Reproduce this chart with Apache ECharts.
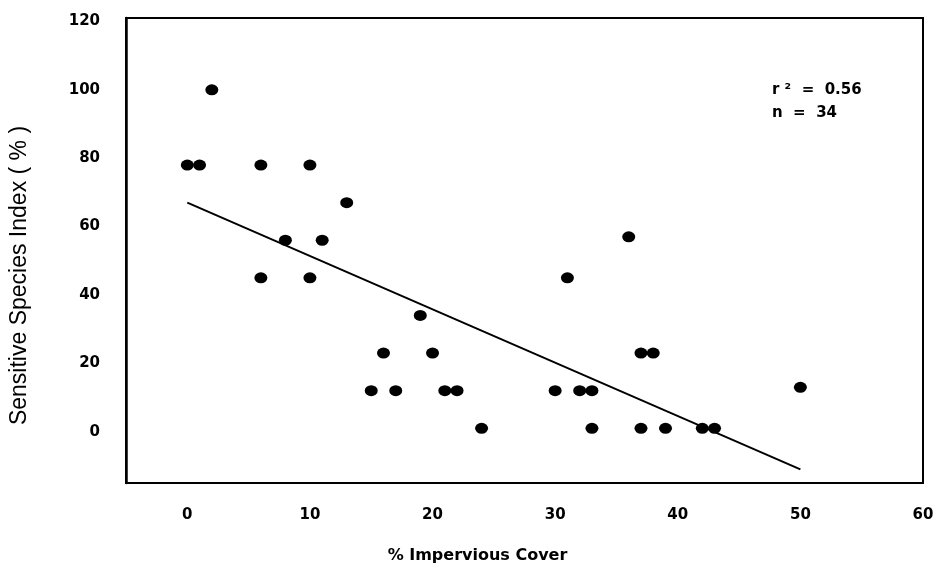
<!DOCTYPE html>
<html>
<head>
<meta charset="utf-8">
<script src="https://cdn.jsdelivr.net/npm/echarts@6/dist/echarts.min.js"></script>
<style>
  html, body { margin: 0; padding: 0; background: #fff; }
  #chart { width: 938px; height: 566px; }
</style>
</head>
<body>
<div id="chart"></div>
<script>
// % impervious cover vs sensitive species index
const imperviousCover = [0, 1, 2, 6, 10, 13, 8, 11, 6, 10, 19, 16, 20, 15, 17, 21, 22, 24, 30, 31, 32, 33, 33, 36, 37, 38, 37, 39, 42, 43, 50];
const speciesIndex = [78, 78, 100, 78, 78, 67, 56, 56, 45, 45, 34, 23, 23, 12, 12, 12, 12, 1, 12, 45, 12, 12, 1, 57, 23, 23, 1, 1, 1, 1, 13];

// regression line end points
const fitX = [0, 50];
const fitY = [67, -11];

const xTicks = [0, 10, 20, 30, 40, 50, 60];
const yTicks = [0, 20, 40, 60, 80, 100, 120];

const statsText = ['r ²  =  0.56', 'n  =  34'];

let points = [];
for (let i = 0; i < imperviousCover.length; i++) {
  points.push([imperviousCover[i], speciesIndex[i]]);
}
let fitLine = fitX.map((x, i) => [x, fitY[i]]);

let myChart = echarts.init(document.getElementById('chart'));

let option = {
  animation: false,
  grid: {
    left: 126,
    right: 15,
    top: 18,
    bottom: 83,
    outerBoundsMode: 'none',
    show: true,
    borderColor: '#000',
    borderWidth: 2
  },
  xAxis: {
    type: 'value',
    min: -5,
    max: 60,
    name: '% Impervious Cover',
    nameLocation: 'middle',
    nameGap: 65,
    nameTextStyle: {
      fontFamily: 'DejaVu Sans',
      fontWeight: 'bold',
      fontSize: 16,
      color: '#000',
      padding: [0, 94, 0, 0]
    },
    axisLine: { onZero: false, lineStyle: { color: '#000', width: 2 } },
    axisTick: { show: false },
    splitLine: { show: false },
    axisLabel: {
      customValues: xTicks,
      margin: 25,
      fontFamily: 'DejaVu Sans',
      fontWeight: 'bold',
      fontSize: 15,
      color: '#000'
    }
  },
  yAxis: {
    type: 'value',
    min: -15,
    max: 121,
    name: 'Sensitive Species Index ( % )',
    nameLocation: 'middle',
    nameGap: 95,
    nameRotate: 90,
    nameTextStyle: {
      fontFamily: 'Liberation Sans',
      fontSize: 23,
      color: '#000',
      padding: [0, 50, 0, 0]
    },
    axisLine: { show: true, onZero: false, lineStyle: { color: '#000', width: 2.5 } },
    axisTick: { show: false },
    splitLine: { show: false },
    axisLabel: {
      customValues: yTicks,
      margin: 26,
      padding: [14, 0, 0, 0],
      fontFamily: 'DejaVu Sans',
      fontWeight: 'bold',
      fontSize: 15,
      color: '#000'
    }
  },
  graphic: [
    {
      type: 'text',
      left: 772,
      top: 79,
      style: {
        text: statsText.join('\n'),
        font: 'bold 15px "DejaVu Sans"',
        lineHeight: 23,
        fill: '#000'
      }
    }
  ],
  series: [
    {
      name: 'sites',
      type: 'scatter',
      symbol: 'circle',
      symbolSize: [13, 11],
      itemStyle: { color: '#000', opacity: 1 },
      data: points
    },
    {
      name: 'fit',
      type: 'line',
      symbol: 'none',
      lineStyle: { color: '#000', width: 2 },
      data: fitLine
    }
  ]
};

option && myChart.setOption(option);
</script>
</body>
</html>
